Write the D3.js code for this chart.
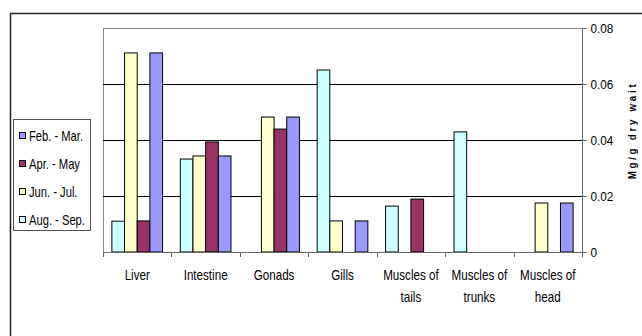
<!DOCTYPE html>
<html>
<head>
<meta charset="utf-8">
<script src="https://cdn.jsdelivr.net/npm/d3@7"></script>
<style>
  html, body { margin: 0; padding: 0; background: #fff; }
  svg { display: block; }
  text { font-family: "Liberation Sans", Arial, sans-serif; fill: #000; }
</style>
</head>
<body>
<svg id="chart" width="642" height="336"></svg>
<script>
// Tissue categories along the x axis (each label may wrap onto two lines)
const categories = ["Liver", "Intestine", "Gonads", "Gills", "Muscles of tails", "Muscles of trunks", "Muscles of head"];
const categoryLines = [["Liver"], ["Intestine"], ["Gonads"], ["Gills"], ["Muscles of", "tails"], ["Muscles of", "trunks"], ["Muscles of", "head"]];

// Sampling periods, in the order the bars sit inside each group
const seriesNames = ["Aug. - Sep.", "Jun. - Jul.", "Apr. - May", "Feb. - Mar."];
const seriesColors = ["#CCFFFF", "#FFFFCC", "#993366", "#9999FF"];

// Concentration (mg/g dry weight) per period, one value per tissue
const augSep = [0.011, 0.0332, 0, 0.065, 0.0164, 0.0429, 0];
const junJul = [0.0711, 0.0343, 0.0482, 0.0111, 0, 0, 0.0175];
const aprMay = [0.0111, 0.0393, 0.0439, 0, 0.0189, 0, 0];
const febMar = [0.0711, 0.0343, 0.0482, 0.0111, 0, 0, 0.0175];
const seriesValues = [augSep, junJul, aprMay, febMar];

// Legend lists the periods chronologically
const legendOrder = ["Feb. - Mar.", "Apr. - May", "Jun. - Jul.", "Aug. - Sep."];

// Right-hand value axis
const yTicks = [0, 0.02, 0.04, 0.06, 0.08];
const yTickLabels = ["0", "0.02", "0.04", "0.06", "0.08"];
const yTitle = "Mg/g dry wait";

const svg = d3.select("#chart");

// Narrow text: regular face squeezed horizontally
function narrowText(sel, sx) {
  return sel.append("text").attr("transform", `scale(${sx},1)`);
}

// Outer chart frame
svg.append("rect")
  .attr("x", 10.5).attr("y", 13.5)
  .attr("width", 700).attr("height", 400)
  .attr("fill", "none").attr("stroke", "#222").attr("stroke-width", 1.5);

const plot = { left: 103, right: 582, top: 28, bottom: 252 };

const x = d3.scaleBand()
  .domain(categories)
  .range([plot.left, plot.right])
  .paddingInner(0).paddingOuter(0);

const inner = d3.scaleBand()
  .domain(seriesNames)
  .range([0, x.bandwidth()])
  .paddingOuter(0.7).paddingInner(0);

const y = d3.scaleLinear().domain([0, 0.08]).range([plot.bottom, plot.top]);

// Plot area border
svg.append("rect")
  .attr("x", plot.left + 0.5).attr("y", plot.top + 0.5)
  .attr("width", plot.right - plot.left).attr("height", plot.bottom - plot.top)
  .attr("fill", "#fff").attr("stroke", "#888").attr("stroke-width", 1);

// Horizontal gridlines
svg.append("g").selectAll("line")
  .data(yTicks.filter(t => t > 0 && t < 0.08))
  .join("line")
  .attr("x1", plot.left).attr("x2", plot.right)
  .attr("y1", d => Math.round(y(d)) + 0.5).attr("y2", d => Math.round(y(d)) + 0.5)
  .attr("stroke", "#000").attr("stroke-width", 1);

// Bars
const groups = svg.append("g").selectAll("g")
  .data(categories)
  .join("g")
  .attr("transform", d => `translate(${x(d)},0)`);

groups.selectAll("rect")
  .data((c, ci) => seriesNames.map((s, si) => ({ s, si, v: seriesValues[si][ci] })))
  .join("rect")
  .filter(d => d.v > 0)
  .attr("x", d => inner(d.s))
  .attr("width", inner.bandwidth())
  .attr("y", d => y(d.v))
  .attr("height", d => y(0) - y(d.v))
  .attr("fill", d => seriesColors[d.si])
  .attr("stroke", "#000").attr("stroke-width", 1);

// Category axis along the bottom
const xAxisG = svg.append("g");
xAxisG.append("line")
  .attr("x1", plot.left).attr("x2", plot.right)
  .attr("y1", plot.bottom + 0.5).attr("y2", plot.bottom + 0.5)
  .attr("stroke", "#666");
const boundaries = categories.map(c => x(c)).concat([plot.right]);
xAxisG.selectAll("line.tick")
  .data(boundaries)
  .join("line").attr("class", "tick")
  .attr("x1", d => Math.round(d) + 0.5).attr("x2", d => Math.round(d) + 0.5)
  .attr("y1", plot.bottom).attr("y2", plot.bottom + 5)
  .attr("stroke", "#666");

const catLabels = xAxisG.selectAll("g.cat")
  .data(categories)
  .join("g").attr("class", "cat")
  .attr("transform", d => `translate(${x(d) + x.bandwidth() / 2},280)`);
catLabels.each(function (d, i) {
  const t = narrowText(d3.select(this), 0.83)
    .attr("text-anchor", "middle")
    .attr("font-size", 14);
  t.selectAll("tspan")
    .data(categoryLines[i])
    .join("tspan")
    .attr("x", 0)
    .attr("dy", (s, k) => k === 0 ? 0 : 22)
    .text(s => s);
});

// Value axis on the right
const yAxis = d3.axisRight(y)
  .tickValues(yTicks)
  .tickFormat("")
  .tickSize(4);
const yAxisG = svg.append("g")
  .attr("transform", `translate(${plot.right + 0.5},0)`)
  .call(yAxis);
yAxisG.select(".domain").attr("stroke", "#666").attr("d", `M0,${plot.top}V${plot.bottom + 0.5}`);
yAxisG.selectAll(".tick line").attr("stroke", "#666");
yAxisG.selectAll(".tick").each(function (d, i) {
  const g = d3.select(this).append("g").attr("transform", "translate(8,0)");
  narrowText(g, 0.9)
    .attr("dy", "0.35em")
    .attr("font-size", 13)
    .text(yTickLabels[yTicks.indexOf(d)]);
});

// Value axis title
svg.append("g")
  .attr("transform", `translate(636,130.5) rotate(-90)`)
  .call(g => narrowText(g, 0.85)
    .attr("text-anchor", "middle")
    .attr("font-size", 11.5)
    .attr("font-weight", "bold")
    .attr("letter-spacing", 3.2)
    .text(yTitle));

// Legend
const legend = svg.append("g");
legend.append("rect")
  .attr("x", 13.5).attr("y", 119.5)
  .attr("width", 77).attr("height", 111)
  .attr("fill", "#fff").attr("stroke", "#555");
const legendItems = legend.selectAll("g")
  .data(legendOrder)
  .join("g")
  .attr("transform", (d, i) => `translate(19,${136 + i * 28})`);
legendItems.append("rect")
  .attr("x", 0.5).attr("y", -3.5)
  .attr("width", 6).attr("height", 6)
  .attr("fill", d => seriesColors[seriesNames.indexOf(d)])
  .attr("stroke", "#000");
legendItems.append("g")
  .attr("transform", "translate(10,5)")
  .each(function (d) {
    narrowText(d3.select(this), 0.8).attr("font-size", 14).text(d);
  });
</script>
</body>
</html>
